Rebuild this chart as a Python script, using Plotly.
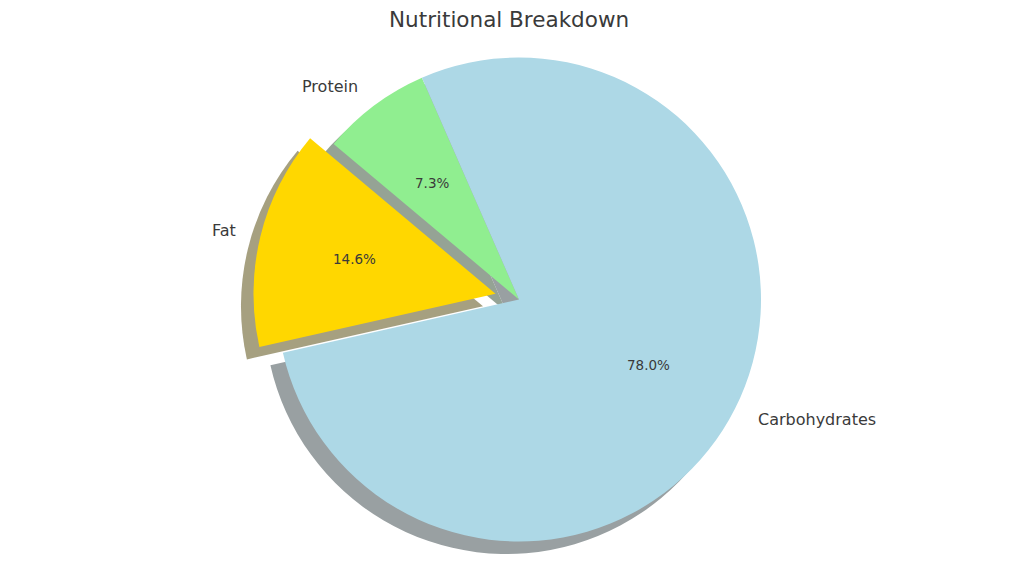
import math
import plotly.graph_objects as go

# ---- data ----
labels = ["Protein", "Carbohydrates", "Fat"]
values = [3, 32, 6]
colors = ["#90ee90", "#add8e6", "#ffd700"]
pulls = [0, 0, 0.1]
title_text = "Nutritional Breakdown"

# ---- layout geometry (pixels, in page coordinates) ----
PAGE_OFF = 8            # default body margin of the html page
W, H = 1024 - PAGE_OFF, 576 - PAGE_OFF
CX, CY, R = 519 - PAGE_OFF, 299.5 - PAGE_OFF, 242
ROTATION = -50          # compass degrees where first slice starts (clockwise)
SHADOW_DX, SHADOW_DY = -12.5, 12.5
TEXT = "#3a3a3a"
FONT = "DejaVu Sans"


def shadow_of(hex_color):
    h = hex_color.lstrip("#")
    r, g, b = (int(h[i:i + 2], 16) for i in (0, 2, 4))
    f = lambda c: round(0.15 * c + 127.5)
    return f"rgb({f(r)},{f(g)},{f(b)})"


def dom(cx, cy, half):
    return dict(x=[(cx - half) / W, (cx + half) / W],
                y=[(H - (cy + half)) / H, (H - (cy - half)) / H])


total = sum(values)
spans = [v / total * 360 for v in values]
mids, acc = [], ROTATION
for s in spans:
    mids.append(90 - (acc + s / 2))   # math angle of slice middle
    acc += s

maxpull = max(pulls)
fig = go.Figure()

transparent = "rgba(0,0,0,0)"
# shadow of non-pulled slices
fig.add_trace(go.Pie(
    labels=labels, values=values, sort=False, direction="clockwise",
    rotation=ROTATION, textinfo="none", hoverinfo="skip", showlegend=False,
    marker=dict(colors=[shadow_of(c) if p == 0 else transparent for c, p in zip(colors, pulls)],
                line=dict(width=0)),
    domain=dom(CX + SHADOW_DX, CY + SHADOW_DY, R)))
# shadow of pulled slices
for i, p in enumerate(pulls):
    if p > 0:
        a = math.radians(mids[i])
        pcx = CX + p * R * math.cos(a) + SHADOW_DX
        pcy = CY - p * R * math.sin(a) + SHADOW_DY
        fig.add_trace(go.Pie(
            labels=labels, values=values, sort=False, direction="clockwise",
            rotation=ROTATION, textinfo="none", hoverinfo="skip", showlegend=False,
            marker=dict(colors=[shadow_of(c) if j == i else transparent
                                for j, c in enumerate(colors)], line=dict(width=0)),
            domain=dom(pcx, pcy, R)))

# main pie
fig.add_trace(go.Pie(
    labels=labels, values=values, sort=False, direction="clockwise",
    rotation=ROTATION, pull=pulls, textinfo="none", showlegend=False,
    marker=dict(colors=colors, line=dict(width=0)),
    domain=dom(CX, CY, R * (1 + maxpull))))

annotations = []
for i, (lab, v) in enumerate(zip(labels, values)):
    a = math.radians(mids[i])
    ox = CX + pulls[i] * R * math.cos(a)
    oy = CY - pulls[i] * R * math.sin(a)
    lx = ox + 1.1 * R * math.cos(a)
    ly = oy - 1.1 * R * math.sin(a)
    annotations.append(dict(
        x=lx / W, y=1 - ly / H, xref="paper", yref="paper", text=lab,
        showarrow=False, xanchor="left" if math.cos(a) > 0 else "right",
        yanchor="middle", borderpad=0,
        font=dict(family=FONT, size=16, color=TEXT)))
    px_ = ox + 0.6 * R * math.cos(a)
    py_ = oy - 0.6 * R * math.sin(a)
    annotations.append(dict(
        x=px_ / W, y=1 - py_ / H, xref="paper", yref="paper",
        text=f"{v / total * 100:.1f}%", showarrow=False,
        xanchor="center", yanchor="middle", borderpad=0,
        font=dict(family=FONT, size=13.5, color=TEXT)))

annotations.append(dict(
    x=(508.5 - PAGE_OFF) / W, y=1 - (19 - PAGE_OFF) / H, xref="paper", yref="paper",
    text=title_text, showarrow=False, xanchor="center", yanchor="middle",
    font=dict(family=FONT, size=21.5, color=TEXT)))

fig.update_layout(
    width=W, height=H, margin=dict(l=0, r=0, t=0, b=0),
    paper_bgcolor="white", plot_bgcolor="white",
    annotations=annotations)

fig.write_html("out.html")
